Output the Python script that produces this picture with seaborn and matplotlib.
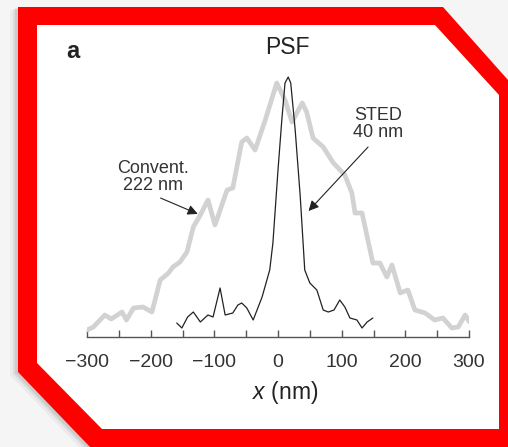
import pandas as pd
import matplotlib.pyplot as plt
import seaborn as sns
from matplotlib.patches import Polygon

# Line profiles (intensity in arbitrary units)
conv_x = [-300, -290, -272, -262, -245, -238, -227, -212, -198, -185, -172, -165,
          -154, -143, -133, -122, -110, -99, -80, -71, -57, -49, -36, -20, -2, 11,
          22, 38, 45, 55, 71, 87, 105, 116, 121, 132, 149, 160, 171, 179, 192, 204,
          215, 231, 246, 259, 273, 283, 294, 301]
conv_y = [7, 10, 22, 18, 25, 17, 29, 30, 25, 57, 64, 70, 75, 85, 110, 122, 137,
          112, 147, 149, 195, 199, 187, 217, 254, 237, 215, 234, 225, 199, 190, 174,
          162, 144, 124, 124, 74, 74, 60, 72, 44, 47, 27, 24, 17, 19, 9, 10, 22, 15]

sted_x = [-159, -151, -142, -133, -122, -110, -102, -91, -83, -71, -63, -57, -49,
          -39, -25, -13, -8, 0, 6, 11, 16, 20, 27, 35, 42, 50, 61, 71, 79, 88, 97,
          105, 113, 124, 132, 140, 149]
sted_y = [14, 9, 20, 25, 15, 22, 20, 49, 22, 24, 32, 34, 29, 17, 40, 67, 94, 167,
          217, 254, 260, 254, 207, 140, 67, 54, 47, 27, 25, 27, 37, 30, 19, 17, 9,
          15, 19]

major_ticks = [-300, -200, -100, 0, 100, 200, 300]
minor_ticks = [-250, -150, -50, 50, 150, 250]

sns.set_theme(style="white")
plt.rcParams['font.family'] = ['Liberation Sans', 'DejaVu Sans']
plt.rcParams['mathtext.fontset'] = 'custom'
plt.rcParams['mathtext.rm'] = 'Liberation Sans'
plt.rcParams['mathtext.it'] = 'Liberation Sans:italic'

fig = plt.figure(figsize=(5.08, 4.47), dpi=100, facecolor='#f5f5f5')

# red clipped-corner frame, drawn in pixel coords
bg = fig.add_axes([0, 0, 1, 1])
bg.set_xlim(0, 508)
bg.set_ylim(447, 0)
bg.axis('off')
outer = [(18, 7), (443, 7), (508, 80), (508, 447), (90, 447), (18, 372)]
inner = [(37, 25), (435, 25), (499, 95), (499, 429), (102, 429), (37, 363)]
for off, a in [(8, 0.04), (5, 0.06), (3, 0.08)]:
    bg.add_patch(Polygon([(x - off, y + off * 0.4) for x, y in outer],
                         fc='black', ec='none', alpha=a))
bg.add_patch(Polygon(outer, fc='#ff0000', ec='none'))
bg.add_patch(Polygon(inner, fc='white', ec='none'))

# plot
ax = fig.add_axes([87 / 508, 110 / 447, 382 / 508, 277 / 447])
ax.patch.set_alpha(0)

conv = pd.DataFrame({'x': conv_x, 'y': conv_y})
sted = pd.DataFrame({'x': sted_x, 'y': sted_y})
sns.lineplot(data=conv, x='x', y='y', color='#d2d2d2', lw=3.4, estimator=None,
             ax=ax, solid_capstyle='round', solid_joinstyle='round')
sns.lineplot(data=sted, x='x', y='y', color='#222222', lw=0.9, estimator=None, ax=ax)

ax.set_xlim(-300, 300)
ax.set_ylim(0, 277)
for s in ['top', 'left', 'right']:
    ax.spines[s].set_visible(False)
ax.spines['bottom'].set_color('#555555')
ax.spines['bottom'].set_linewidth(1)
ax.set_yticks([])
ax.set_xticks(major_ticks)
ax.set_xticks(minor_ticks, minor=True)
ax.tick_params(axis='x', which='both', direction='in', length=5, width=1,
               color='#555555', labelsize=14, labelcolor='#333333', pad=12,
               bottom=True)
ax.set_xlabel('')
ax.set_ylabel('')

ax.annotate('Convent.\n222 nm', xy=(-122, 122), xytext=(-196, 160),
            ha='center', va='center', fontsize=13, color='#333333',
            linespacing=0.95,
            arrowprops=dict(arrowstyle='-|>', color='#222222', lw=0.8,
                            mutation_scale=15, relpos=(0.46, 0), shrinkA=2))
ax.annotate('STED\n40 nm', xy=(45, 124), xytext=(157, 213),
            ha='center', va='center', fontsize=13, color='#333333',
            linespacing=0.95,
            arrowprops=dict(arrowstyle='-|>', color='#222222', lw=0.8,
                            mutation_scale=15, relpos=(0.42, 0), shrinkA=3))

fig.text(287 / 508, 1 - 48 / 447, 'PSF', ha='center', va='center',
         fontsize=16.5, color='#222222')
fig.text(73 / 508, 1 - 52 / 447, 'a', ha='center', va='center',
         fontsize=17, fontweight='bold', color='#222222')
fig.text(285 / 508, 1 - 393 / 447, r'$x$ (nm)', ha='center', va='center',
         fontsize=16.5, color='#222222')

fig.savefig('out.png', dpi=100, facecolor=fig.get_facecolor())
